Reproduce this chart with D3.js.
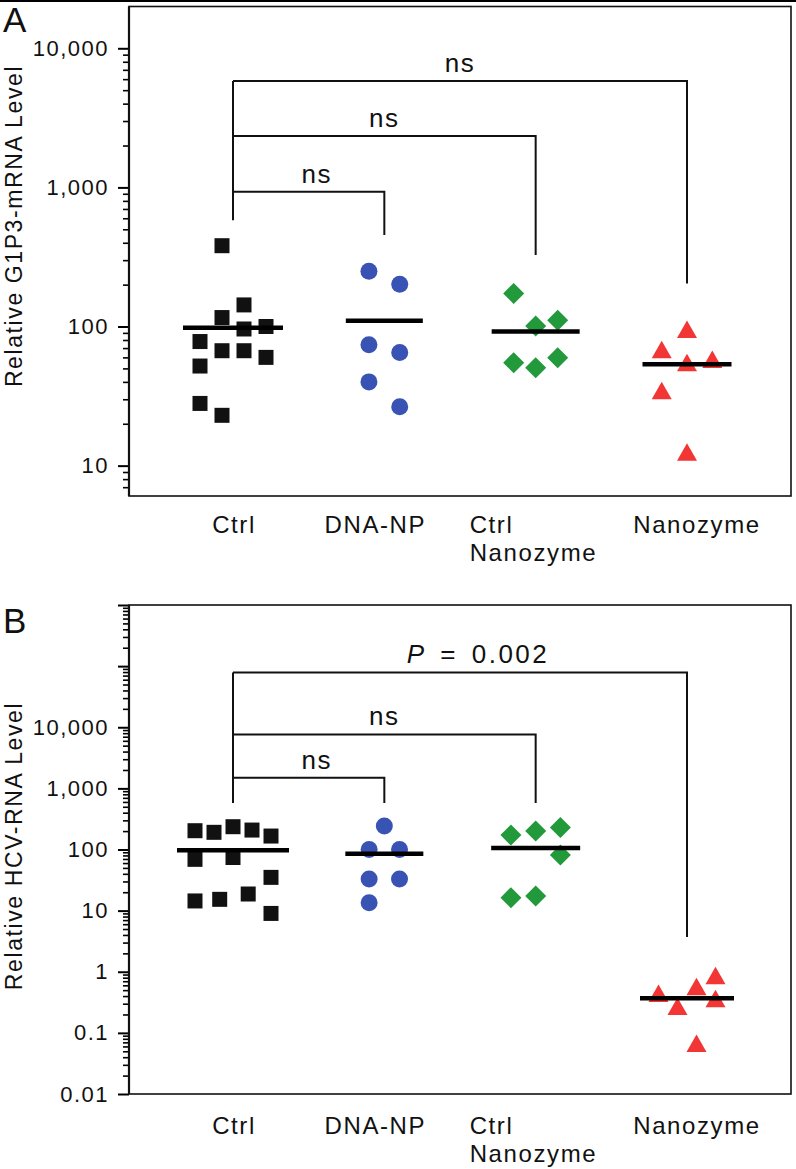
<!DOCTYPE html>
<html>
<head>
<meta charset="utf-8">
<script src="https://cdn.jsdelivr.net/npm/d3@7"></script>
<style>
  body { margin: 0; background: #fff; }
  text { font-family: "Liberation Sans", Arial, sans-serif; fill: #111; }
</style>
</head>
<body>
<script>
// groups on the x axis
var groups = ["Ctrl", "DNA-NP", "Ctrl Nanozyme", "Nanozyme"];
var groupLabels = [["Ctrl"], ["DNA-NP"], ["Ctrl", "Nanozyme"], ["Nanozyme"]];

// panel A : relative G1P3-mRNA level
var g1p3Ctrl = [381, 143, 116, 96, 100, 78, 67, 67, 60, 52, 28, 23];
var g1p3DnaNp = [250, 201, 74, 65, 40, 26.5];
var g1p3CtrlNano = [173, 101, 111, 55, 50.6, 59.7];
var g1p3Nano = [95, 68, 55, 58, 34.6, 12.5];
var g1p3Means = [98, 110, 92, 53.5];
// column slot of each point (swarm column, 0 = centre)
var g1p3CtrlCol = [-0.5, 0.5, -0.5, 0.5, 1.5, -1.5, -0.5, 0.5, 1.5, -1.5, -1.5, -0.5];
var g1p3DnaNpCol = [-0.7, 0.7, -0.7, 0.7, -0.7, 0.7];
var g1p3CtrlNanoCol = [-1, 0, 1, -1, 0, 1];
var g1p3NanoCol = [0, -1.15, 0, 1.15, -1.15, 0];
var g1p3Ticks = [10, 100, 1000, 10000];
// comparisons with Ctrl
var g1p3BracketTo = [1, 2, 3];
var g1p3BracketLevel = [931, 2340, 5820];
var g1p3BracketEnd = [455, 327, 204];
var g1p3BracketStem = 581;
var g1p3BracketText = ["ns", "ns", "ns"];

// panel B : relative HCV-RNA level
var hcvCtrl = [203, 191, 236, 208, 166, 69, 74, 35, 14.4, 15.3, 18.7, 9.0];
var hcvDnaNp = [242, 100, 100, 32.8, 32.8, 13.5];
var hcvCtrlNano = [172, 200, 230, 81, 16.3, 17.3];
var hcvNano = [0.86, 0.57, 0.44, 0.36, 0.27, 0.067];
var hcvMeans = [97, 85, 106, 0.37];
var hcvCtrlCol = [-2, -1, 0, 1, 2, -2, 0, 2, -2, -0.7, 0.8, 2];
var hcvDnaNpCol = [0, -0.8, 0.8, -0.8, 0.8, -0.8];
var hcvCtrlNanoCol = [-1.3, 0, 1.3, 1.3, -1.3, 0];
var hcvNanoCol = [1.5, 0.5, -1.5, 1.5, -0.5, 0.5];
var hcvTicks = [0.01, 0.1, 1, 10, 100, 1000, 10000];
var hcvBracketTo = [1, 2, 3];
var hcvBracketLevel = [1490, 7640, 78900];
var hcvBracketEnd = [575, 575, 3.7];
var hcvBracketStem = 575;
var hcvBracketText = ["ns", "ns", "P = 0.002"];

var colors = ["#111111", "#3953b5", "#22993b", "#f23535"];
var shapes = ["square", "circle", "diamond", "triangle"];

var W = 796, H = 1169;
var plotLeft = 129, plotRight = 791;
// small horizontal nudges of the category labels
var labelShift = [1, -9, -66, 10];

var svg = d3.select("body").append("svg")
    .attr("width", W)
    .attr("height", H);

svg.append("rect").attr("width", W).attr("height", H).attr("fill", "#fff");
svg.append("line")
    .attr("x1", 0).attr("x2", W).attr("y1", 1).attr("y2", 1)
    .attr("stroke", "#000").attr("stroke-width", 2);

var x = d3.scalePoint().domain(groups).range([233, 687]);

var panels = [
    {
	letter: "A", letterY: 32, top: 6.5, bottom: 496, domain: [6.05, 19970],
	title: "Relative G1P3-mRNA Level", titleY: 226,
	series: [g1p3Ctrl, g1p3DnaNp, g1p3CtrlNano, g1p3Nano],
	cols: [g1p3CtrlCol, g1p3DnaNpCol, g1p3CtrlNanoCol, g1p3NanoCol],
	slot: 22, means: g1p3Means, meanWidth: [100, 77, 88, 89],
	labelTicks: g1p3Ticks,
	bTo: g1p3BracketTo, bLevel: g1p3BracketLevel, bEnd: g1p3BracketEnd,
	bStem: g1p3BracketStem, bText: g1p3BracketText, catY: 533
    },
    {
	letter: "B", letterY: 633, top: 605, bottom: 1094, domain: [0.01, 1e6],
	title: "Relative HCV-RNA Level", titleY: 846,
	series: [hcvCtrl, hcvDnaNp, hcvCtrlNano, hcvNano],
	cols: [hcvCtrlCol, hcvDnaNpCol, hcvCtrlNanoCol, hcvNanoCol],
	slot: 19, means: hcvMeans, meanWidth: [112, 78, 89, 94],
	labelTicks: hcvTicks,
	bTo: hcvBracketTo, bLevel: hcvBracketLevel, bEnd: hcvBracketEnd,
	bStem: hcvBracketStem, bText: hcvBracketText, catY: 1134
    }
];

function marker(shape) {
    if (shape == "square") return "M-7.5,-7.5h15v15h-15Z";
    if (shape == "circle") return d3.symbol(d3.symbolCircle, Math.PI * 8.5 * 8.5)();
    if (shape == "diamond") return "M0,-10.5L10.5,0L0,10.5L-10.5,0Z";
    return "M0,-9L10,8.5L-10,8.5Z";
}

var fmt = d3.format(",");

panels.forEach(function(p) {
    var y = d3.scaleLog().domain(p.domain).range([p.bottom, p.top]);
    var g = svg.append("g");

    // minor / major ticks
    var all = y.ticks();
    var majors = all.filter(function(v) { return Math.abs(Math.log10(v) - Math.round(Math.log10(v))) < 1e-6; });
    var minors = all.filter(function(v) { return majors.indexOf(v) < 0; });

    g.append("g")
	.attr("transform", "translate(" + plotLeft + ",0)")
	.call(d3.axisLeft(y).tickValues(minors).tickSize(6).tickFormat(""))
	.call(function(a) { a.select(".domain").remove(); })
	.selectAll("line").attr("stroke-width", 1.6);

    var ax = g.append("g")
	.attr("transform", "translate(" + plotLeft + ",0)")
	.call(d3.axisLeft(y).tickValues(majors).tickSize(11).tickPadding(9)
	      .tickFormat(function(d) {
		  var hit = p.labelTicks.some(function(t) { return Math.abs(t - d) / t < 1e-6; });
		  return hit ? fmt(+d.toPrecision(6)) : "";
	      }));
    ax.select(".domain").remove();
    ax.selectAll("line").attr("stroke-width", 2);
    ax.selectAll("text")
	.style("font-size", "22px")
	.style("letter-spacing", "1.5px")
	.attr("fill", "#111")
	.attr("font-family", null);

    // frame
    g.append("rect")
	.attr("x", plotLeft).attr("y", p.top)
	.attr("width", plotRight - plotLeft).attr("height", p.bottom - p.top)
	.attr("fill", "none").attr("stroke", "#111").attr("stroke-width", 1.6);
    g.append("line")
	.attr("x1", plotLeft).attr("x2", plotLeft).attr("y1", p.top).attr("y2", p.bottom)
	.attr("stroke", "#111").attr("stroke-width", 2.2);

    // brackets
    var x0 = x(groups[0]);
    g.append("line")
	.attr("x1", x0).attr("x2", x0)
	.attr("y1", y(d3.max(p.bLevel))).attr("y2", y(p.bStem))
	.attr("stroke", "#111").attr("stroke-width", 2);
    p.bTo.forEach(function(t, i) {
	var x1 = x(groups[t]);
	var yl = y(p.bLevel[i]);
	g.append("path")
	    .attr("d", "M" + x0 + "," + yl + "H" + x1 + "V" + y(p.bEnd[i]))
	    .attr("fill", "none").attr("stroke", "#111").attr("stroke-width", 2);
	var txt = g.append("text")
	    .attr("x", (x0 + x1) / 2).attr("y", yl - 9)
	    .attr("text-anchor", "middle")
	    .style("font-size", "26px").style("letter-spacing", "1.5px");
	if (p.bText[i].indexOf("P") == 0) {
	    txt.attr("dx", 18).style("letter-spacing", "2.5px").style("word-spacing", "4px");
	    txt.append("tspan").style("font-style", "italic").text("P");
	    txt.append("tspan").text(p.bText[i].slice(1));
	} else {
	    txt.attr("dx", i == 0 ? 8 : 0).text(p.bText[i]);
	}
    });

    // points
    p.series.forEach(function(vals, i) {
	var cx = x(groups[i]);
	g.selectAll(".pt" + i)
	    .data(vals.map(function(v, j) { return {v: v, c: p.cols[i][j]}; }))
	    .enter().append("path")
	    .attr("d", marker(shapes[i]))
	    .attr("transform", function(d) { return "translate(" + (cx + d.c * p.slot) + "," + y(d.v) + ")"; })
	    .attr("fill", colors[i]);
    });

    // mean lines
    g.selectAll(".mean")
	.data(p.means)
	.enter().append("line")
	.attr("x1", function(d, i) { return x(groups[i]) - p.meanWidth[i] / 2; })
	.attr("x2", function(d, i) { return x(groups[i]) + p.meanWidth[i] / 2; })
	.attr("y1", function(d) { return y(d); })
	.attr("y2", function(d) { return y(d); })
	.attr("stroke", "#000").attr("stroke-width", 4.5);

    // category labels
    groupLabels.forEach(function(lines, i) {
	var t = g.append("text")
	    .attr("y", p.catY)
	    .style("font-size", "24px").style("letter-spacing", "1.6px");
	if (lines.length > 1) {
	    // two-line label: lines start at one left edge
	    var left = x(groups[i]) + labelShift[i];
	    t.attr("x", left);
	    lines.forEach(function(s, k) {
		t.append("tspan").attr("x", left).attr("dy", k ? 28 : 0).text(s);
	    });
	} else {
	    t.attr("x", x(groups[i]) + labelShift[i]).attr("text-anchor", "middle").text(lines[0]);
	}
    });

    // axis title
    g.append("text")
	.attr("transform", "translate(22," + p.titleY + ") rotate(-90)")
	.attr("text-anchor", "middle")
	.style("font-size", "23px").style("letter-spacing", "1.6px")
	.text(p.title);

    // panel letter
    g.append("text")
	.attr("x", 3).attr("y", p.letterY)
	.style("font-size", "35px")
	.text(p.letter);
});
</script>
</body>
</html>
